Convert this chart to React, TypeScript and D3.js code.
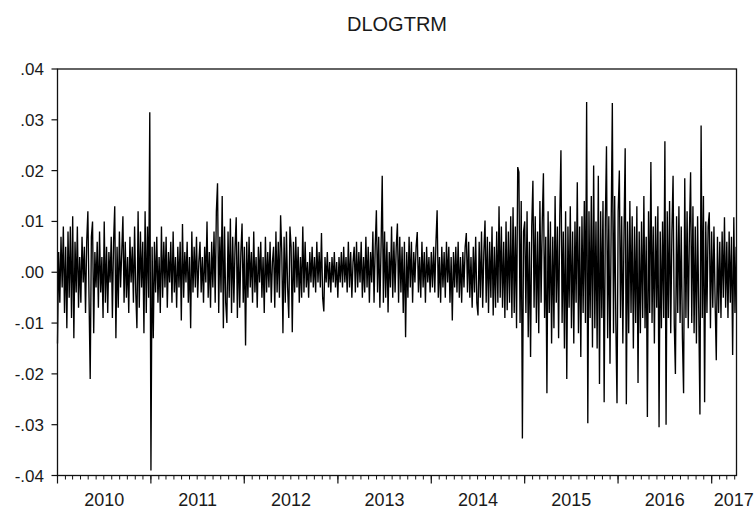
import React from "react";
import * as d3 from "d3";

// Daily log-differences of TRM, in thousandths (x 1/1000)
const dlog2010 = [
  -14, 4, -6, 7, -3, 9, -8, 5, -11, 8,
  -5, 9, -9, 11, -13, 6, -4, 9, -7, 3,
  -6, 7, -2, 5, -8, 6, 12, -5, -21, 7,
  10, -12, 4, -3, 6, -7, 8, -4, 3, -9,
  10, -6, 5, -8, 4, -2, 7, -9, 6, 13,
  -13, 5, -7, 8, -3, 4, 11, -6, 6, -5,
  3, -8, 7, -2, 5, -6, 9, -4, -11, 12,
  -7, 8, -3, 6, -12, 12, -8, 9, -5, 31.5,
];
const dlog2011 = [
  -39, 5, -13, 6, -4, 7, -6, 3, -8, 9,
  -5, 6, -3, 7, -7, 4, -2, 6, -6, 8,
  -4, 3, -7, 5, -3, 6, -9.5, 9.5, -5, 4,
  -2, 6, -6, 3, -11, 8, -4, 5, -3, 7,
  -5, 2, 6, -4, 3, -6, 5, -2, 10, -5,
  4, -7, 6, -3, 8, -6, 12, 17.5, -8, 7,
  -4, 15, -11, 9, -6, -10, 8, -5, 10.6, -8,
  7, -6, 5, 10.8, -9, 6, -7, 4, 9.6, -6,
];
const dlog2012 = [
  5, -14.4, 6, -5, 7, -3, 4, -6, 8, -4,
  3, -7, 5, -2, 6, -5, 3, -8, 7, -4,
  4, -3, 6, -6, 2, 5, -7, 8, -4, 6,
  -5, 11.2, 4, -12, 7, -6, 8, -3, -9, 9,
  5, -11.8, 6, -4, 7, -3, 5, -6, 3, -5,
  9, -4, 6, -3, 2, -5, 4, -2, 5, -3,
  3, -4, 6, -2, 4, -3, 7.7, -5, -7.7, 3,
  -2, 4, -3, 2, -4, 3, -2, 4, -3, 2,
];
const dlog2013 = [
  -5, 3, -2, 4, -3, 5, -2, 3, -4, 6,
  -3, 4, -5, 2, 5, -4, 6, -3, 4, -2,
  6, -5, 3, -4, 7, -3, 5, -6, 4, -2,
  8, -6, 5, 12.2, -4, 7, -7, 5, 19, -6,
  8, -5, 6, -7.9, 4, -3, 9, -5, 6, -4,
  5, 9.6, -6, 7, -4, 5, -8, 6, -12.8, 4,
  -5, 7, -3, 6, -6, 4, -2, 5, 7.9, -4,
  3, -5, 6, -3, 4, -6, 5, -2, 3, -4,
];
const dlog2014 = [
  4, -3, 5, -4, 6, 12.2, -5, 3, -6, 5,
  -3, 4, -5, 6, -2, 5, -6, 3, -9.5, 4,
  -3, 5, -4, 6, -5, 3, -6, 4, -3, 5,
  7.7, -4, 6, -5, 3, -7, 5, -4, 7, -6,
  -8.5, 6, -5, 8, -7, 4, 10.2, -6, 7, -8,
  6, -5, 9, -8.5, 5, -7, 8, -6, 13, -5,
  9, -7, 6, -9, 10, -7.5, 8, -6, 11, -9,
  12.8, -8, 9, -11, 20.7, 19.7, -10, 14, -32.7, 8,
];
const dlog2015 = [
  10, -8, 12, -12.8, 6, -16.7, 9, 18, -7, 11,
  -10, 8, -12, 14, -6, 10, 19.5, -9, 7, -23.8,
  12, -8, 10, -14, 7, -11, 15, -6, 9, -13,
  11, 24, -10, 8, -15, 12, -21, 9, -7, 13,
  -11, 8, -14, 10, -6, 17.7, -12, 9, -16.7, 11,
  -8, 14, -10, 33.5, -29.7, 12, -9, 15, -14.8, 21,
  -11, 10, -15, 19, -22, 12, -9, 14, -25.6, 10,
  24.8, -13, 11, -18, 9, 33.3, -12, 15, -10, -25.8,
];
const dlog2016 = [
  12, 20, -9, 11, -14, 8, 24.4, -26, 10, -12,
  14, -8, 11, -15, 9, -10, 13, -21.8, 8, -12,
  10, -9, 15, -11, 7, -28.5, 12, -8, 21.7, -10,
  9, -14, 11, -7, 13, -30.5, 8, -11, 10, -9,
  25.8, -30, 12, -9, 14, -12, 8, 19, -10, -20,
  11, -8, 13, -10, 9, -13, -23.8, 18.5, -9, 12,
  -11, 8, 19.7, -10, 13, -12, 9, -14, 11, -8,
  -28, 28.9, -9, 15, -25.6, 10, -8, 9, 11.8, -11,
];
const dlog2017 = [
  8, -7, 9, -6, -17.3, 7, -8, 6, -9, 8,
  -5, 10.8, -7, 6, -9, 8, -6, 7, -16.3, 10.8,
  -8, 5,
];

const yTickValues = [0.04, 0.03, 0.02, 0.01, 0, -0.01, -0.02, -0.03, -0.04];
const yTickLabels = [".04", ".03", ".02", ".01", ".00", "-.01", "-.02", "-.03", "-.04"];
const yearLabels = ["2010", "2011", "2012", "2013", "2014", "2015", "2016", "2017"];
const title = "DLOGTRM";

const FONT = "'Liberation Sans', Arial, Helvetica, sans-serif";

export default function App() {
  const W = 756;
  const H = 510;
  const left = 57.5;
  const right = 736.5;
  const top = 69;
  const bottom = 475.5;

  const series = [
    ...dlog2010, ...dlog2011, ...dlog2012, ...dlog2013,
    ...dlog2014, ...dlog2015, ...dlog2016, ...dlog2017,
  ];
  const start = new Date(2010, 0, 1);
  const end = new Date(2017, 3, 8);
  const stepMs = (365.25 / 80) * 86400000;
  const data = series.map((v, i) => ({
    date: new Date(start.getTime() + i * stepMs),
    value: v / 1000,
  }));

  const x = d3.scaleTime().domain([start, end]).range([left, right]);
  const y = d3.scaleLinear().domain([-0.04, 0.04]).range([bottom, top]);

  const line = d3
    .line<{ date: Date; value: number }>()
    .x((d) => x(d.date))
    .y((d) => y(d.value));

  const months = d3.timeMonth.range(start, end);
  const years = d3.timeYear.range(start, end);

  return (
    <svg
      width={W}
      height={H}
      style={{ position: "absolute", left: 0, top: 0, display: "block", background: "#fff" }}
    >
      <rect x={0} y={0} width={W} height={H} fill="#fff" />
      <text
        x={397}
        y={31}
        textAnchor="middle"
        fontFamily={FONT}
        fontSize={20}
        fill="#1a1a1a"
      >
        {title}
      </text>

      {/* data line */}
      <path d={line(data) || ""} fill="none" stroke="#000" strokeWidth={1.35} strokeLinejoin="miter" />

      {/* frame */}
      <rect x={left} y={top} width={right - left} height={bottom - top} fill="none" stroke="#111" strokeWidth={1.3} />

      {/* y axis ticks & labels */}
      {yTickValues.map((v, i) => (
        <g key={"y" + i}>
          <line x1={left - 6} x2={left} y1={y(v)} y2={y(v)} stroke="#111" strokeWidth={1.2} />
          <text
            x={44}
            y={y(v) + 6}
            textAnchor="end"
            fontFamily={FONT}
            fontSize={17}
            fill="#1a1a1a"
          >
            {yTickLabels[i]}
          </text>
        </g>
      ))}

      {/* x axis month ticks */}
      {months.map((m, i) => (
        <line
          key={"m" + i}
          x1={x(m)}
          x2={x(m)}
          y1={bottom}
          y2={bottom + 4}
          stroke="#111"
          strokeWidth={1}
        />
      ))}
      {years.map((yr, i) => (
        <line
          key={"yr" + i}
          x1={x(yr)}
          x2={x(yr)}
          y1={bottom}
          y2={bottom + 8}
          stroke="#111"
          strokeWidth={1.2}
        />
      ))}
      {yearLabels.map((lab, i) => {
        const y0 = new Date(2010 + i, 0, 1);
        const y1 = new Date(2011 + i, 0, 1);
        const x0 = x(y0);
        const x1 = Math.min(x(y1), right);
        const last = i === yearLabels.length - 1;
        return (
          <text
            key={"yl" + i}
            x={last ? x0 + 2 : (x0 + x1) / 2}
            y={506}
            textAnchor={last ? "start" : "middle"}
            fontFamily={FONT}
            fontSize={18}
            fill="#1a1a1a"
          >
            {lab}
          </text>
        );
      })}
    </svg>
  );
}
